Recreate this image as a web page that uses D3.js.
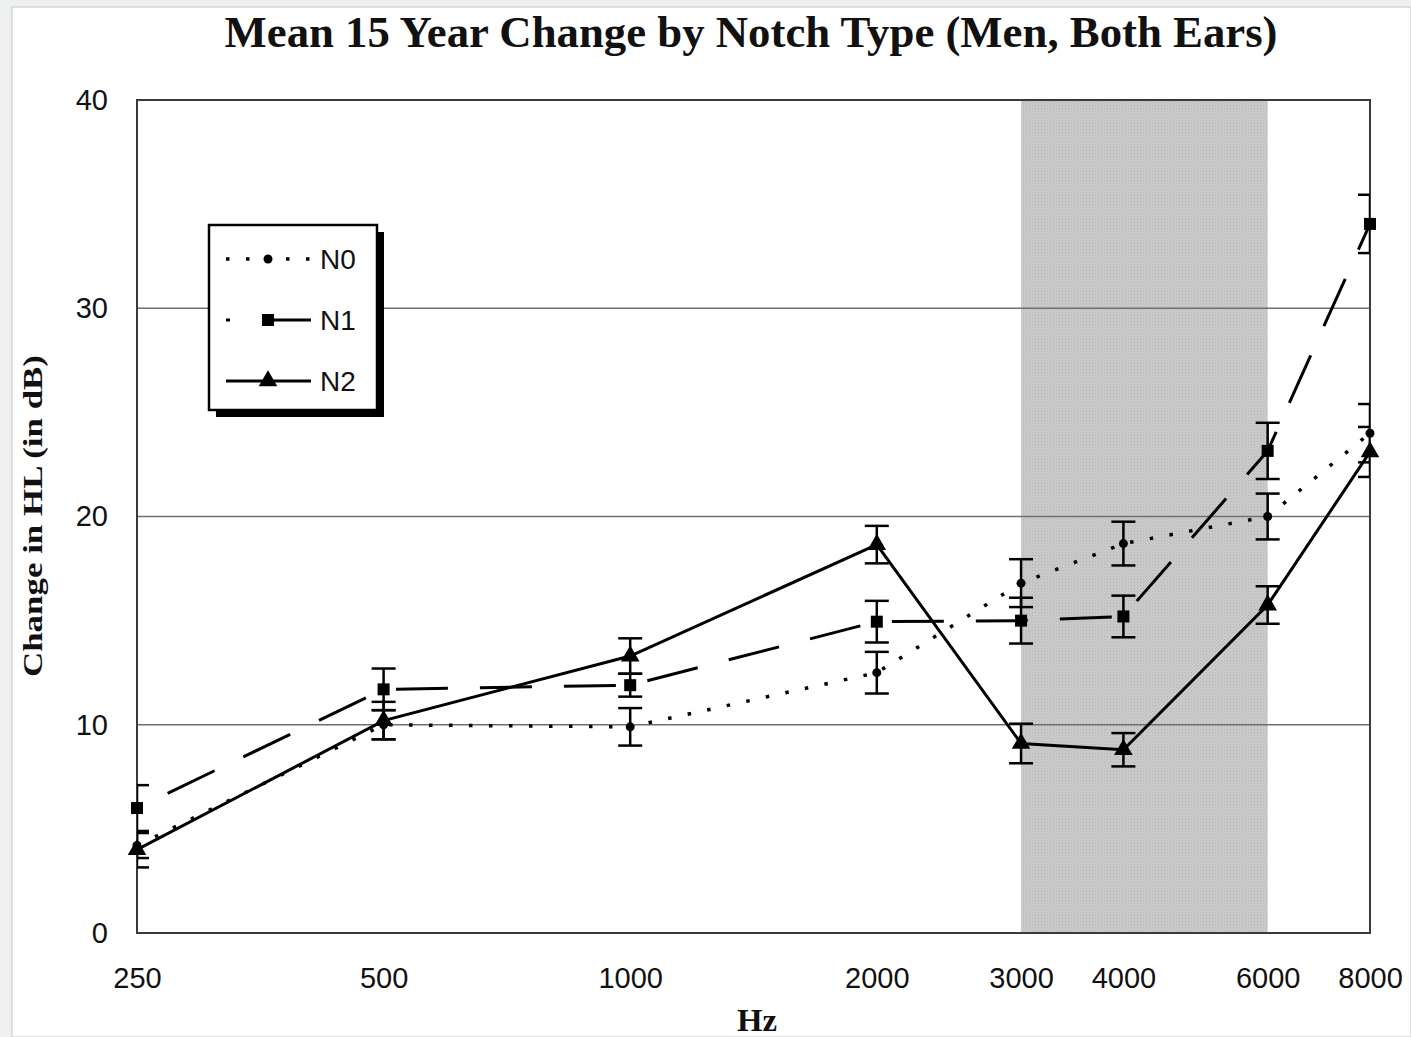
<!DOCTYPE html>
<html>
<head>
<meta charset="utf-8">
<script src="https://cdn.jsdelivr.net/npm/d3@7"></script>
<style>
  html, body { margin: 0; padding: 0; background: #eef0ef; }
  svg { display: block; }
</style>
</head>
<body>
<svg id="chart" width="1411" height="1037"></svg>
<script>
// Audiometric test frequencies (Hz) and their axis labels
const frequencies = [250, 500, 1000, 2000, 3000, 4000, 6000, 8000];
const tickLabels = ["250", "500", "1000", "2000", "3000", "4000", "6000", "8000"];
const yTicks = [0, 10, 20, 30, 40];
const seriesNames = ["N0", "N1", "N2"];

// Mean 15-year change in hearing level (dB) and error-bar half widths
const n0Mean = [4.2, 10.0, 9.9, 12.5, 16.8, 18.7, 20.0, 24.0];
const n0Err  = [0.6, 0.7, 0.9, 1.0, 1.15, 1.05, 1.1, 1.4];
const n1Mean = [6.0, 11.7, 11.9, 14.95, 15.0, 15.2, 23.15, 34.05];
const n1Err  = [1.1, 1.0, 0.55, 1.0, 1.1, 1.0, 1.35, 1.4];
const n2Mean = [4.0, 10.2, 13.3, 18.65, 9.1, 8.8, 15.75, 23.1];
const n2Err  = [0.85, 0.9, 0.85, 0.9, 0.95, 0.8, 0.9, 1.2];

// Notch region highlighted on the frequency axis
const bandRange = [3000, 6000];

const svg = d3.select("#chart");
const W = 1411, H = 1037;
const plot = { left: 137, right: 1370, top: 100, bottom: 933 };

const x = d3.scaleLog().domain([250, 8000]).range([plot.left, plot.right]);
const y = d3.scaleLinear().domain([0, 40]).range([plot.bottom, plot.top]);

const defs = svg.append("defs");
// stippled fill for the highlighted band
const pat = defs.append("pattern").attr("id", "stipple")
  .attr("width", 3).attr("height", 3).attr("patternUnits", "userSpaceOnUse");
pat.append("rect").attr("width", 3).attr("height", 3).attr("fill", "#cbcbcb");
pat.append("rect").attr("x", 0).attr("y", 0).attr("width", 1).attr("height", 1).attr("fill", "#b4b4b4");
pat.append("rect").attr("x", 1.5).attr("y", 1.5).attr("width", 1).attr("height", 1).attr("fill", "#bdbdbd");

defs.append("clipPath").attr("id", "plotClip")
  .append("rect")
  .attr("x", plot.left).attr("y", plot.top - 20)
  .attr("width", plot.right - plot.left).attr("height", plot.bottom - plot.top + 20);

// page sheet
svg.append("rect").attr("x", 12).attr("y", 7).attr("width", W - 12).attr("height", H - 7)
  .attr("fill", "#ffffff").attr("stroke", "#d4d6d5").attr("stroke-width", 1.5);

// title
svg.append("text")
  .attr("x", 751).attr("y", 47)
  .attr("text-anchor", "middle")
  .attr("font-family", "'Liberation Serif', 'Times New Roman', serif")
  .attr("font-weight", "bold")
  .attr("font-size", 44)
  .attr("textLength", 1053).attr("lengthAdjust", "spacingAndGlyphs")
  .attr("fill", "#111")
  .text("Mean 15 Year Change by Notch Type (Men, Both Ears)");

// highlighted band
svg.append("rect")
  .attr("x", x(bandRange[0])).attr("y", plot.top)
  .attr("width", x(bandRange[1]) - x(bandRange[0]))
  .attr("height", plot.bottom - plot.top)
  .attr("fill", "url(#stipple)");

// horizontal gridlines
svg.append("g").selectAll("line")
  .data(yTicks.filter(d => d > 0 && d < 40))
  .join("line")
  .attr("x1", plot.left).attr("x2", plot.right)
  .attr("y1", d => y(d)).attr("y2", d => y(d))
  .attr("stroke", "#6f6f6f").attr("stroke-width", 1.5);

// plot frame
svg.append("rect")
  .attr("x", plot.left).attr("y", plot.top)
  .attr("width", plot.right - plot.left).attr("height", plot.bottom - plot.top)
  .attr("fill", "none").attr("stroke", "#3a3a3a").attr("stroke-width", 2);

// axes
const yAxis = svg.append("g")
  .attr("transform", `translate(${plot.left},0)`)
  .call(d3.axisLeft(y).tickValues(yTicks).tickSize(0).tickPadding(29));
yAxis.select(".domain").remove();
yAxis.selectAll("text")
  .attr("font-family", "'Liberation Sans', Arial, sans-serif")
  .attr("font-size", 29).attr("fill", "#111");

const xAxis = svg.append("g")
  .attr("transform", `translate(0,${plot.bottom})`)
  .call(d3.axisBottom(x).tickValues(frequencies)
    .tickFormat((d, i) => tickLabels[i]).tickSize(0).tickPadding(34));
xAxis.select(".domain").remove();
xAxis.selectAll("text")
  .attr("font-family", "'Liberation Sans', Arial, sans-serif")
  .attr("font-size", 29).attr("fill", "#111");

// axis titles
svg.append("text")
  .attr("x", 757).attr("y", 1031)
  .attr("text-anchor", "middle")
  .attr("font-family", "'Liberation Serif', 'Times New Roman', serif")
  .attr("font-weight", "bold").attr("font-size", 31)
  .attr("textLength", 40).attr("lengthAdjust", "spacingAndGlyphs")
  .attr("fill", "#111").text("Hz");

svg.append("text")
  .attr("transform", "translate(42,516) rotate(-90)")
  .attr("text-anchor", "middle")
  .attr("font-family", "'Liberation Serif', 'Times New Roman', serif")
  .attr("font-weight", "bold").attr("font-size", 28)
  .attr("textLength", 322).attr("lengthAdjust", "spacingAndGlyphs")
  .attr("fill", "#111").text("Change in HL (in dB)");

// series definitions
const series = [
  { name: seriesNames[0], mean: n0Mean, err: n0Err, dash: "3.5,16.5", offset: 0, width: 3.5, marker: "circle" },
  { name: seriesNames[1], mean: n1Mean, err: n1Err, dash: "52,32", offset: 50, width: 3, marker: "square" },
  { name: seriesNames[2], mean: n2Mean, err: n2Err, dash: null, offset: 0, width: 3, marker: "triangle" }
];

const line = d3.line().x(d => x(d.f)).y(d => y(d.v));
const capHalf = 12;

function drawMarker(g, type, cx, cy) {
  if (type === "circle") {
    g.append("circle").attr("cx", cx).attr("cy", cy).attr("r", 4.5).attr("fill", "#000");
  } else if (type === "square") {
    g.append("rect").attr("x", cx - 6).attr("y", cy - 6).attr("width", 12).attr("height", 12).attr("fill", "#000");
  } else {
    g.append("path").attr("d", d3.symbol().type(d3.symbolTriangle).size(150)())
      .attr("transform", `translate(${cx},${cy})`).attr("fill", "#000");
  }
}

// lines
series.forEach(s => {
  const pts = frequencies.map((f, i) => ({ f, v: s.mean[i] }));
  svg.append("path")
    .attr("d", line(pts))
    .attr("fill", "none").attr("stroke", "#000")
    .attr("stroke-width", s.width)
    .attr("stroke-dasharray", s.dash)
    .attr("stroke-dashoffset", s.offset);
});

// error bars
const eb = svg.append("g").attr("clip-path", "url(#plotClip)")
  .attr("stroke", "#000").attr("stroke-width", 2.5);
series.forEach(s => {
  frequencies.forEach((f, i) => {
    const cx = x(f), hi = y(s.mean[i] + s.err[i]), lo = y(s.mean[i] - s.err[i]);
    eb.append("line").attr("x1", cx).attr("x2", cx).attr("y1", hi).attr("y2", lo);
    eb.append("line").attr("x1", cx - capHalf).attr("x2", cx + capHalf).attr("y1", hi).attr("y2", hi);
    eb.append("line").attr("x1", cx - capHalf).attr("x2", cx + capHalf).attr("y1", lo).attr("y2", lo);
  });
});

// markers
const mk = svg.append("g");
series.forEach(s => {
  frequencies.forEach((f, i) => drawMarker(mk, s.marker, x(f), y(s.mean[i])));
});

// legend
const lg = svg.append("g").attr("transform", "translate(209,225)");
lg.append("rect").attr("x", 7).attr("y", 7).attr("width", 168).attr("height", 185).attr("fill", "#000");
lg.append("rect").attr("x", 0).attr("y", 0).attr("width", 168).attr("height", 185)
  .attr("fill", "#fff").attr("stroke", "#000").attr("stroke-width", 2.5);
const legendOffsets = ["0", "48", null];
series.forEach((s, i) => {
  const ly = 34 + i * 61;
  lg.append("path")
    .attr("d", `M17,${ly}H102`)
    .attr("fill", "none").attr("stroke", "#000")
    .attr("stroke-width", s.width)
    .attr("stroke-dasharray", s.dash)
    .attr("stroke-dashoffset", legendOffsets[i]);
  drawMarker(lg, s.marker, 59, ly);
  lg.append("text")
    .attr("x", 111).attr("y", ly).attr("dy", "0.36em")
    .attr("font-family", "'Liberation Sans', Arial, sans-serif")
    .attr("font-size", 28).attr("fill", "#111")
    .text(s.name);
});
</script>
</body>
</html>
